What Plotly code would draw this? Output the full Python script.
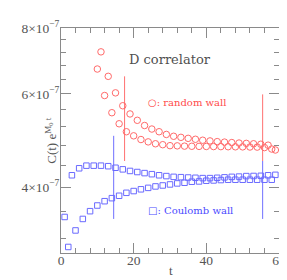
import plotly.graph_objects as go

# ---- data (values in units of 1e-7) ----
red_t_even = [10, 12, 14, 16, 18, 20, 22, 24, 26, 28, 30, 32, 34, 36, 38, 40, 42, 44, 46, 48, 50, 52, 54, 56, 58]
red_v_even = [6.69, 5.96, 5.53, 5.27, 5.09, 5.00, 4.92, 4.87, 4.83, 4.81, 4.79, 4.786, 4.78, 4.777, 4.775,
              4.773, 4.771, 4.77, 4.768, 4.766, 4.765, 4.762, 4.76, 4.75, 4.72]
red_t_odd = [11, 13, 15, 17, 19, 21, 23, 25, 27, 29, 31, 33, 35, 37, 39, 41, 43, 45, 47, 49, 51, 53, 55, 57, 59]
red_v_odd = [7.21, 6.48, 6.03, 5.70, 5.50, 5.35, 5.23, 5.15, 5.09, 5.03, 4.99, 4.967, 4.945, 4.925, 4.905,
             4.89, 4.875, 4.865, 4.855, 4.845, 4.838, 4.83, 4.82, 4.80, 4.70]

blue_t_odd = [1, 3, 5, 7, 9, 11, 13, 15, 17, 19, 21, 23, 25, 27, 29, 31, 33, 35, 37, 39, 41, 43, 45, 47, 49,
              51, 53, 55, 57, 59]
blue_v_odd = [3.51, 4.21, 4.34, 4.39, 4.39, 4.39, 4.38, 4.35, 4.32, 4.29, 4.27, 4.25, 4.23, 4.21, 4.195,
              4.181, 4.175, 4.169, 4.164, 4.158, 4.158, 4.164, 4.172, 4.181, 4.186, 4.195, 4.197, 4.20, 4.21, 4.218]
blue_t_even = [2, 4, 6, 8, 10, 12, 14, 16, 18, 20, 22, 24, 26, 28, 30, 32, 34, 36, 38, 40, 42, 44, 46, 48, 50,
               52, 54, 56, 58]
blue_v_even = [3.08, 3.31, 3.48, 3.60, 3.69, 3.76, 3.81, 3.85, 3.90, 3.93, 3.96, 3.985, 4.01, 4.027, 4.045,
               4.063, 4.075, 4.093, 4.098, 4.111, 4.116, 4.123, 4.129, 4.129, 4.129, 4.129, 4.129, 4.129, 4.129]

# fit-range markers: (t, low, high)
red_lines = [(17.5, 4.48, 6.48), (55.5, 4.48, 5.99)]
blue_lines = [(14.5, 3.48, 5.0), (55.5, 3.48, 4.48)]

x_major = [0, 20, 40, 60]
x_minor = [4, 8, 12, 16, 24, 28, 32, 36, 44, 48, 52, 56]
ytick_vals = [4e-7, 6e-7, 8e-7]
ytick_text = ["4×10<sup>−7</sup>", "6×10<sup>−7</sup>", "8×10<sup>−7</sup>"]
yminor = [3.2e-7, 3.6e-7, 4.4e-7, 4.8e-7, 5.2e-7, 5.6e-7, 6.4e-7, 6.8e-7, 7.2e-7, 7.6e-7]

scale = 1e-7
RED = "#ff6a6a"
BLUE = "#6a6aff"

fig = go.Figure()

for (t, lo, hi) in red_lines:
    fig.add_trace(go.Scatter(x=[t, t], y=[lo * scale, hi * scale], mode="lines",
                             line=dict(color="#ff7070", width=1), showlegend=False, hoverinfo="skip"))
for (t, lo, hi) in blue_lines:
    fig.add_trace(go.Scatter(x=[t, t], y=[lo * scale, hi * scale], mode="lines",
                             line=dict(color="#7070ff", width=1), showlegend=False, hoverinfo="skip"))

for ts, vs in [(red_t_even, red_v_even), (red_t_odd, red_v_odd)]:
    fig.add_trace(go.Scatter(x=ts, y=[v * scale for v in vs], mode="markers",
                             marker=dict(symbol="circle-open", size=6.5, color=RED, line=dict(width=1)),
                             showlegend=False, cliponaxis=True))
for ts, vs in [(blue_t_odd, blue_v_odd), (blue_t_even, blue_v_even)]:
    fig.add_trace(go.Scatter(x=ts, y=[v * scale for v in vs], mode="markers",
                             marker=dict(symbol="square-open", size=5.5, color=BLUE, line=dict(width=1)),
                             showlegend=False, cliponaxis=True))

axis_col = "#8a8a8a"
tick_font = dict(family="Liberation Serif", size=13.5, color="#555555")

fig.update_layout(
    width=287, height=280,
    margin=dict(l=53, r=9, t=20, b=35),
    paper_bgcolor="white", plot_bgcolor="white",
    xaxis=dict(range=[0, 60], tickvals=x_major, ticks="inside", ticklen=10, tickwidth=1,
               tickcolor=axis_col, showline=True, linecolor=axis_col, linewidth=1, mirror="allticks",
               showgrid=False, zeroline=False, tickfont=tick_font, ticklabelstandoff=-5,
               minor=dict(tickvals=x_minor, ticks="inside",
                          ticklen=5, tickcolor=axis_col, showgrid=False)),
    yaxis=dict(type="log", range=[-6.52288, -6.09691], tickvals=ytick_vals, ticktext=ytick_text,
               ticks="inside", ticklen=10, tickwidth=1, tickcolor=axis_col, showline=True,
               linecolor=axis_col, linewidth=1, mirror="allticks", showgrid=False, zeroline=False,
               tickfont=tick_font, ticklabelstandoff=-2,
               minor=dict(tickvals=yminor, ticks="inside", ticklen=5, tickcolor=axis_col, showgrid=False)),
)

fig.add_annotation(text="D correlator", xref="paper", yref="paper", x=0.50, y=0.904,
                   showarrow=False, font=dict(family="DejaVu Serif", size=13, color="#505050"))
fig.add_annotation(text="○: random wall", xref="paper", yref="paper", x=0.39, y=0.704,
                   xanchor="left", showarrow=False,
                   font=dict(family="DejaVu Serif", size=10, color="#ff4a4a"))
fig.add_annotation(text="□: Coulomb wall", xref="paper", yref="paper", x=0.39, y=0.156,
                   xanchor="left", showarrow=False,
                   font=dict(family="DejaVu Serif", size=10, color="#4a4aff"))
fig.add_annotation(text="t", xref="paper", yref="paper", x=0.504, y=-0.12,
                   showarrow=False, font=dict(family="Liberation Serif", size=13, color="#555555"))
fig.add_annotation(text="C(t) e<sup>M<sub>0</sub> t</sup>", xref="paper", yref="paper", x=-0.095, y=0.5,
                   textangle=-90, showarrow=False,
                   font=dict(family="Liberation Serif", size=13, color="#555555"))

fig.write_html("out.html")
